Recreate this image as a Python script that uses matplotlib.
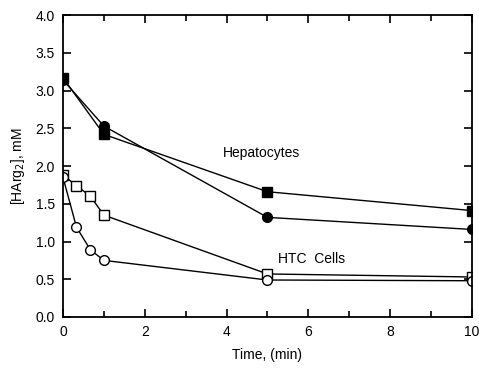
import numpy as np
import matplotlib.pyplot as plt
from matplotlib.ticker import MultipleLocator

# hepatocytes
hep_sq_t = [0, 1, 5, 10]
hep_sq_y = [3.17, 2.42, 1.66, 1.41]
hep_ci_t = [0, 1, 5, 10]
hep_ci_y = [3.14, 2.53, 1.32, 1.16]

# HTC cells
htc_sq_t = [0, 0.33, 0.67, 1, 5, 10]
htc_sq_y = [1.88, 1.74, 1.60, 1.35, 0.57, 0.53]
htc_ci_t = [0, 0.33, 0.67, 1, 5, 10]
htc_ci_y = [1.85, 1.19, 0.89, 0.75, 0.49, 0.48]

plt.rcParams['font.family'] = ['Liberation Sans', 'DejaVu Sans']

fig = plt.figure(figsize=(4.79, 3.69), dpi=100)
ax = fig.add_axes([0.1315, 0.141, 0.8535, 0.818])

lw = 1.0
ax.plot(hep_sq_t, hep_sq_y, '-s', color='black', lw=lw, ms=7, mfc='black', zorder=3)
ax.plot(hep_ci_t, hep_ci_y, '-o', color='black', lw=lw, ms=7, mfc='black', zorder=3)
ax.plot(htc_sq_t, htc_sq_y, '-s', color='black', lw=lw, ms=7, mfc='white', mew=1.0, zorder=3)
ax.plot(htc_ci_t, htc_ci_y, '-o', color='black', lw=lw, ms=7, mfc='white', mew=1.0, zorder=3)

ax.text(3.9, 2.17, 'Hepatocytes', fontsize=10, va='center', ha='left')
ax.text(5.25, 0.77, 'HTC  Cells', fontsize=10, va='center', ha='left')

ax.set_xlim(0, 10)
ax.set_ylim(0, 4.0)
ax.xaxis.set_major_locator(MultipleLocator(2))
ax.xaxis.set_minor_locator(MultipleLocator(1))
ax.yaxis.set_major_locator(MultipleLocator(0.5))
ax.yaxis.set_major_formatter(plt.FormatStrFormatter('%.1f'))
ax.tick_params(which='both', direction='in', top=True, right=True, labelsize=10, width=1.2)
ax.tick_params(which='major', length=6, pad=6)
ax.tick_params(which='minor', length=4)
for s in ax.spines.values():
    s.set_linewidth(1.3)
    s.set_zorder(4)

ax.set_xlabel('Time, (min)', fontsize=10, labelpad=6)
ax.set_ylabel(r'[HArg$_2$], mM', fontsize=10, labelpad=6)

fig.savefig('out.png', dpi=100)
